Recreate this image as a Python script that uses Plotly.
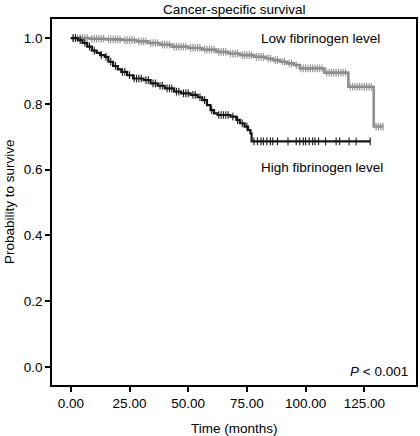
import numpy as np
import plotly.graph_objects as go

# ---- data ----
# High fibrinogen level: event times (months) and survival after each step
high_times = [0, 3, 5, 7, 9, 11, 12.5, 14.5, 16, 18, 20, 21.5, 24, 26.5, 31, 34, 37, 40, 44, 47,
              51, 54, 56, 58, 59.5, 61, 62.5, 68, 70.5, 72, 74, 75.5, 76.5, 77]
high_surv = [1.0, 0.994, 0.985, 0.974, 0.962, 0.955, 0.948, 0.943, 0.928, 0.915, 0.905, 0.897,
             0.887, 0.877, 0.872, 0.862, 0.855, 0.847, 0.837, 0.832, 0.827, 0.820, 0.811, 0.796,
             0.781, 0.771, 0.766, 0.761, 0.751, 0.741, 0.731, 0.720, 0.710, 0.686]
high_end = 127.5
high_censor = [1, 2, 4, 6, 8, 10, 13, 15, 17, 19, 22, 23, 25, 27, 28, 29, 30, 32, 33, 35, 36, 38,
               39, 41, 42, 43, 45, 46, 48, 49, 50, 52, 53, 55, 57, 60, 63, 64, 65, 66, 67, 69, 71,
               73, 75, 78, 79.5, 81, 82, 83.5, 85, 86, 88, 92.5, 96, 97.5, 99, 100, 101.5, 103,
               104, 105.5, 108.5, 113, 114.5, 118.5, 121.5, 127.5]

# Low fibrinogen level
low_times = [0, 8, 15, 22, 28, 33, 38, 43, 50, 56, 62, 67, 72, 78, 83, 86, 89, 92, 95, 97.5,
             108, 118.2, 129]
low_surv = [1.0, 0.998, 0.996, 0.994, 0.990, 0.985, 0.980, 0.974, 0.970, 0.965, 0.958, 0.953,
            0.948, 0.943, 0.938, 0.933, 0.928, 0.923, 0.918, 0.908, 0.895, 0.852, 0.731]
low_end = 133
low_censor = [1, 2, 3, 4, 5, 6, 7, 9, 10, 11, 12, 13, 14, 16, 17, 18, 19, 20, 21, 23, 24, 25, 26,
              27, 29, 30, 31, 32, 34, 35, 36, 37, 39, 40, 41, 42, 44, 45, 46, 47, 48, 49, 51, 52,
              53, 54, 55, 57, 58, 59, 60, 61, 63, 64, 65, 66, 68, 69, 70, 71, 73, 74, 75, 76, 77,
              79, 80, 81, 82, 84, 85, 87, 88, 90, 91, 93, 94, 96, 98, 99, 100, 101, 102, 103,
              104, 105, 106, 107, 109, 110, 111, 112, 113, 114, 115, 116, 117, 119, 120, 121,
              122, 123, 124, 125, 126, 127, 128, 130, 131, 132, 133]

x_ticks = [0, 25, 50, 75, 100, 125]
y_ticks = [0.0, 0.2, 0.4, 0.6, 0.8, 1.0]

HIGH_COLOR = "#161616"
LOW_COLOR = "#8e8e8e"
FONT = "Liberation Sans, Arial, Helvetica, sans-serif"
FS = 13.5


def step_value(times, surv, t):
    idx = np.searchsorted(np.array(times), t, side="right") - 1
    return [surv[i] for i in idx]


fig = go.Figure()

for times, surv, end, cens, color, width in [
    (low_times, low_surv, low_end, low_censor, LOW_COLOR, 2.6),
    (high_times, high_surv, high_end, high_censor, HIGH_COLOR, 2.2),
]:
    fig.add_trace(go.Scatter(
        x=times + [end], y=surv + [surv[-1]], mode="lines",
        line=dict(color=color, width=width, shape="hv"),
        hoverinfo="skip", showlegend=False, cliponaxis=False))
    fig.add_trace(go.Scatter(
        x=cens, y=step_value(times, surv, cens), mode="markers",
        marker=dict(symbol="line-ns", size=5.5, line=dict(color=color, width=1.1)),
        hoverinfo="skip", showlegend=False, cliponaxis=False))

axis_common = dict(
    showline=True, linecolor="black", linewidth=1.5, mirror=True,
    ticks="outside", ticklen=5, tickwidth=1.5, tickcolor="black",
    showgrid=False, zeroline=False, automargin=False, layer="above traces",
    tickfont=dict(family=FONT, size=FS, color="black"),
)

fig.update_xaxes(range=[-8, 147], tickvals=x_ticks,
                 ticktext=[f"{v:.2f}" for v in x_ticks], **axis_common)
fig.update_yaxes(range=[-0.055, 1.058], tickvals=y_ticks,
                 ticktext=[f"{v:.1f}" for v in y_ticks], **axis_common)

annotations = [
    dict(text="Cancer-specific survival", xref="paper", yref="paper", x=0.5, y=1,
         yanchor="bottom", yshift=0, showarrow=False,
         font=dict(family=FONT, size=FS, color="black")),
    dict(text="Time (months)", xref="paper", yref="paper", x=0.5, y=0,
         yanchor="middle", yshift=-43, showarrow=False,
         font=dict(family=FONT, size=FS, color="black")),
    dict(text="Probability to survive", xref="paper", yref="paper", x=0, y=0.5,
         xanchor="center", xshift=-43, textangle=-90, showarrow=False,
         font=dict(family=FONT, size=FS, color="black")),
    dict(text="Low fibrinogen level", xref="x", yref="y", x=80.0, y=1.0,
         xanchor="left", yanchor="middle", showarrow=False,
         font=dict(family=FONT, size=FS, color="black")),
    dict(text="High fibrinogen level", xref="x", yref="y", x=80.0, y=0.605,
         xanchor="left", yanchor="middle", showarrow=False,
         font=dict(family=FONT, size=FS, color="black")),
    dict(text="<i>P</i> < 0.001", xref="paper", yref="y", x=1, y=-0.014,
         xanchor="right", yanchor="middle", xshift=-6, showarrow=False,
         font=dict(family=FONT, size=FS, color="black")),
]

fig.update_layout(
    width=420, height=436,
    margin=dict(l=52, r=4, t=19, b=51, pad=0, autoexpand=False),
    paper_bgcolor="white", plot_bgcolor="white",
    annotations=annotations,
    font=dict(family=FONT),
)

fig.write_html("out.html", config={"displayModeBar": False},
               post_script="document.body.style.margin='0';")
